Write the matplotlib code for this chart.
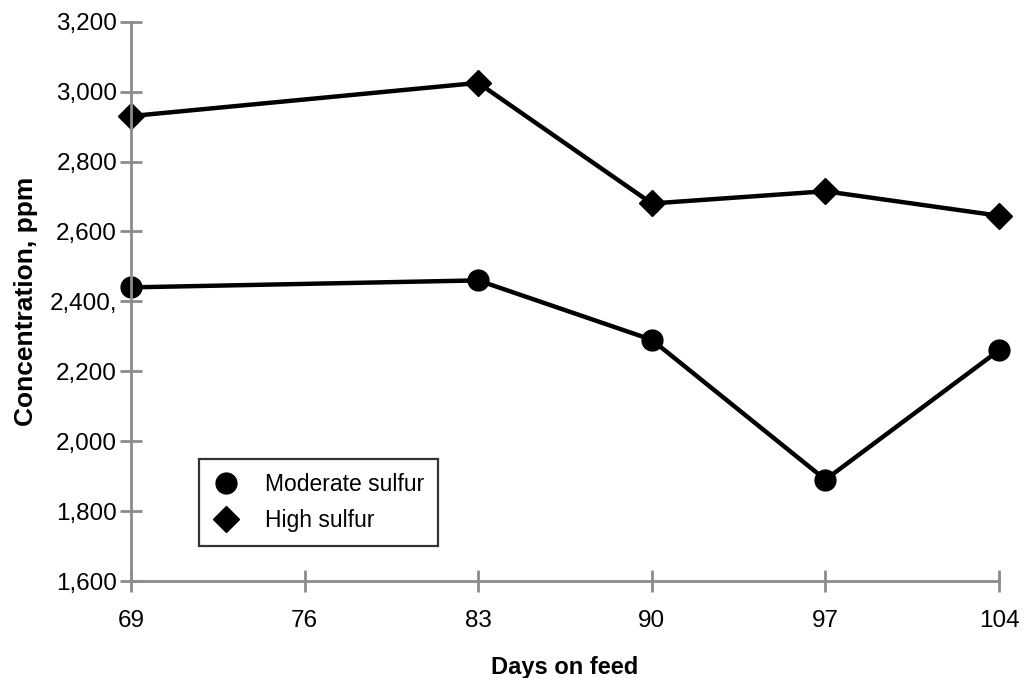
import matplotlib.pyplot as plt

days = [69, 83, 90, 97, 104]
moderate = [2440, 2460, 2290, 1890, 2260]
high = [2930, 3025, 2680, 2715, 2645]

xticks = [69, 76, 83, 90, 97, 104]
yticks = [1600, 1800, 2000, 2200, 2400, 2600, 2800, 3000, 3200]
ylabels = ['1,600', '1,800', '2,000', '2,200', '2,400,', '2,600', '2,800', '3,000', '3,200']

plt.rcParams['font.family'] = ['Liberation Sans', 'DejaVu Sans']

fig = plt.figure(figsize=(10.31, 6.78), dpi=100)
ax = fig.add_axes([0.127, 0.143, 0.842, 0.825])

ax.plot(days, moderate, color='black', lw=3.2, marker='o', ms=15, label='Moderate sulfur', clip_on=False)
ax.plot(days, high, color='black', lw=3.2, marker='D', ms=13, label='High sulfur', clip_on=False)

ax.set_xlim(69, 104)
ax.set_ylim(1600, 3200)
ax.set_xticks(xticks)
ax.set_xticklabels([str(t) for t in xticks])
ax.set_yticks(yticks)
ax.set_yticklabels(ylabels)

for side in ['top', 'right']:
    ax.spines[side].set_visible(False)
for side in ['left', 'bottom']:
    ax.spines[side].set_color('#8c8c8c')
    ax.spines[side].set_linewidth(2)
ax.tick_params(direction='inout', length=16, width=2, color='#8c8c8c',
               labelsize=17.5, labelcolor='black')
ax.tick_params(axis='x', pad=13)
ax.tick_params(axis='y', pad=2)

ax.set_xlabel('Days on feed', fontsize=17, fontweight='bold', labelpad=17)
ax.set_ylabel('Concentration, ppm', fontsize=19, fontweight='bold', labelpad=8)

leg = ax.legend(loc='lower left', bbox_to_anchor=(0.078, 0.0626), borderaxespad=0,
                fontsize=16.5, frameon=True, fancybox=False, handlelength=1.2,
                handletextpad=1.1, borderpad=0.6, labelspacing=0.6, numpoints=1,
                markerscale=1.0)
leg.get_frame().set_edgecolor('black')
leg.get_frame().set_linewidth(1.6)
for h in leg.get_lines():
    h.set_linestyle('none')

fig.savefig('out.png', dpi=100)
